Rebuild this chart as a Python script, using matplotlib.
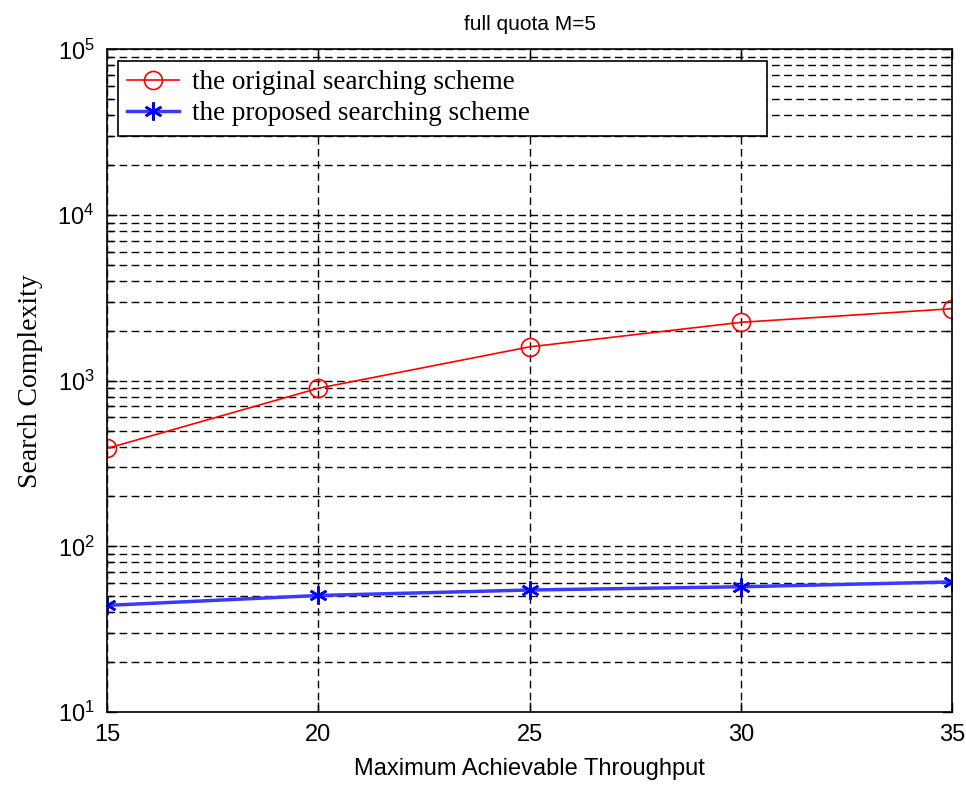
"""
Complejidad de búsqueda: esquema original vs. esquema propuesto (full quota M=5)
"""

import numpy as np
import matplotlib
matplotlib.use("Agg")
import matplotlib.pyplot as plt
from matplotlib.ticker import FixedLocator, LogLocator, FuncFormatter, NullFormatter

# Datos
throughput = [15, 20, 25, 30, 35]
original = [390, 900, 1600, 2250, 2720]
propuesto = [44, 50.5, 54.5, 57, 61]
etiquetas = ['the original searching scheme', 'the proposed searching scheme']
titulo = 'full quota M=5'
xlabel = 'Maximum Achievable Throughput'
ylabel = 'Search Complexity'

plt.rcParams['font.family'] = ['Liberation Sans', 'DejaVu Sans']

fig = plt.figure(figsize=(9.66, 7.85), dpi=100)
ax = fig.add_axes([0.1108, 0.0930, 0.8747, 0.8441])

ax.set_yscale('log')
ax.set_xlim(15, 35)
ax.set_ylim(10, 1e5)

ax.plot(throughput, original, color='red', lw=1.2, marker='o', ms=13,
        mfc='none', mec='red', mew=1.2, label=etiquetas[0])
# asterisco estilo MATLAB
ax.plot(throughput, propuesto, color='#3a3aff', lw=2.5, marker=(6, 2, 0), ms=13,
        mec='blue', mew=1.8, label=etiquetas[1])

# Ticks y rejilla estilo MATLAB
ax.xaxis.set_major_locator(FixedLocator(throughput))
ax.yaxis.set_major_locator(LogLocator(base=10, numticks=10))
ax.yaxis.set_minor_locator(LogLocator(base=10, subs=np.arange(2, 10), numticks=20))
ax.yaxis.set_minor_formatter(NullFormatter())
ax.yaxis.set_major_formatter(FuncFormatter(
    lambda v, p: r'$\mathregular{10^{%d}}$' % int(round(np.log10(v)))))

ax.tick_params(which='both', direction='in', top=True, right=True,
               labelsize=17, width=1.0, pad=9)
ax.tick_params(which='major', length=7)
ax.tick_params(which='minor', length=4)

estilo_rejilla = dict(color='black', linewidth=1.0, linestyle=(0, (5.5, 3.2)))
ax.grid(True, which='major', axis='both', **estilo_rejilla)
ax.grid(True, which='minor', axis='y', **estilo_rejilla)
ax.set_axisbelow(True)

for s in ax.spines.values():
    s.set_linewidth(1.2)

ax.set_title(titulo, fontsize=15, pad=14)
ax.set_xlabel(xlabel, fontsize=17, labelpad=8)
ax.set_ylabel(ylabel, fontsize=20, family=['Liberation Serif', 'DejaVu Serif'], labelpad=10)

leg = ax.legend(loc='upper left', bbox_to_anchor=(0.013, 0.874, 0.768, 0.1085),
                mode='expand', borderaxespad=0, fancybox=False, framealpha=1,
                edgecolor='black', handlelength=1.9,
                prop={'family': ['Liberation Serif', 'DejaVu Serif'], 'size': 19.5},
                borderpad=0.35, labelspacing=0.22, handletextpad=0.5)
leg.get_frame().set_linewidth(1.2)

fig.savefig('out.png', dpi=100, facecolor='white')
